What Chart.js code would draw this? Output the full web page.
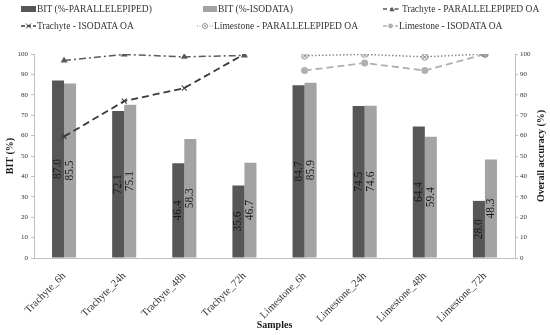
<!DOCTYPE html>
<html><head><meta charset="utf-8">
<script src="https://cdn.jsdelivr.net/npm/chart.js@4/dist/chart.umd.min.js"></script>
<style>
html,body{margin:0;padding:0;background:#fff;}
#wrap{position:relative;width:550px;height:335px;overflow:hidden;}
#c{position:absolute;left:0;top:0;}
.lg{position:absolute;font-family:"Liberation Serif",serif;font-size:9.5px;color:#333;white-space:nowrap;height:12px;line-height:12px;display:flex;align-items:center;}
.lg svg{display:block;margin-right:1px;}
</style></head><body>
<div id="wrap"><canvas id="c" width="550" height="335"></canvas><div id="legend"></div></div>
<script>
// ---- data ----
const categories = ["Trachyte_6h","Trachyte_24h","Trachyte_48h","Trachyte_72h","Limestone_6h","Limestone_24h","Limestone_48h","Limestone_72h"];
const bitParallelepiped = [87.0, 72.1, 46.4, 35.6, 84.7, 74.5, 64.4, 28.0];
const bitIsodata = [85.5, 75.1, 58.3, 46.7, 85.9, 74.6, 59.4, 48.3];
const trachyteParallelepipedOA = [96.8, 99.8, 98.6, 99.3, null, null, null, null];
const trachyteIsodataOA = [59.5, 76.9, 83.3, 100.0, null, null, null, null];
const limestoneParallelepipedOA = [null, null, null, null, 99.2, 99.8, 98.6, 100.0];
const limestoneIsodataOA = [null, null, null, null, 91.9, 95.6, 91.9, 99.9];
const yTicks = [0,10,20,30,40,50,60,70,80,90,100];
const seriesLabels = ["BIT (%-PARALLELEPIPED)","BIT (%-ISODATA)","Trachyte - PARALLELEPIPED OA","Trachyte - ISODATA OA","Limestone - PARALLELEPIPED OA","Limestone - ISODATA OA"];
const xTitle = "Samples", yTitle = "BIT (%)", y1Title = "Overall accuracy (%)";

const FONT = '"Liberation Serif", "Times New Roman", serif';
const C_DARK = '#575757', C_LIGHT = '#a3a3a3';

// circle with x marker
function circleX(){
  const cv = document.createElement('canvas'); cv.width = 8; cv.height = 8;
  const g = cv.getContext('2d');
  g.strokeStyle = '#8a8a8a'; g.lineWidth = 0.9;
  g.beginPath(); g.arc(4,4,3.2,0,Math.PI*2); g.stroke();
  g.beginPath(); g.moveTo(1.8,1.8); g.lineTo(6.2,6.2); g.moveTo(6.2,1.8); g.lineTo(1.8,6.2); g.stroke();
  return cv;
}

const dataLabelPlugin = {
  id: 'barLabels',
  afterDatasetsDraw(chart){
    const ctx = chart.ctx;
    [0,1].forEach(di => {
      const meta = chart.getDatasetMeta(di);
      meta.data.forEach((el, i) => {
        const v = chart.data.datasets[di].data[i];
        ctx.save();
        ctx.translate(el.x, (el.y + el.base)/2);
        ctx.rotate(-Math.PI/2);
        ctx.font = '11.5px ' + FONT;
        ctx.fillStyle = '#1a1a1a';
        ctx.textAlign = 'center'; ctx.textBaseline = 'middle';
        ctx.fillText(v.toFixed(1), 0, 0);
        ctx.restore();
      });
    });
    // right axis title (reads bottom-to-top)
    const ca = chart.chartArea;
    ctx.save();
    ctx.translate(541, (ca.top + ca.bottom)/2);
    ctx.rotate(-Math.PI/2);
    ctx.font = 'bold 10px ' + FONT;
    ctx.fillStyle = '#1a1a1a';
    ctx.textAlign = 'center'; ctx.textBaseline = 'middle';
    ctx.fillText(y1Title, 0, 0);
    ctx.restore();
  }
};

const chart = new Chart(document.getElementById('c'), {
  type: 'bar',
  data: {
    labels: categories,
    datasets: [
      {label: seriesLabels[0], data: bitParallelepiped, backgroundColor: C_DARK, yAxisID: 'y', categoryPercentage: 0.4, barPercentage: 1.0, order: 2},
      {label: seriesLabels[1], data: bitIsodata, backgroundColor: C_LIGHT, yAxisID: 'y', categoryPercentage: 0.4, barPercentage: 1.0, order: 2},
      {type: 'line', label: seriesLabels[2], data: trachyteParallelepipedOA, yAxisID: 'y1', borderColor: '#5a5a5a', borderWidth: 1.5, borderDash: [7,3,2,3], pointStyle: 'triangle', pointRadius: 2.5, pointBackgroundColor: '#5a5a5a', pointBorderColor: '#5a5a5a', spanGaps: false, order: 1},
      {type: 'line', label: seriesLabels[3], data: trachyteIsodataOA, yAxisID: 'y1', borderColor: '#3a3a3a', borderWidth: 1.8, borderDash: [7,4], pointStyle: 'crossRot', pointRadius: 3.5, pointBorderColor: '#3a3a3a', pointBorderWidth: 1.1, order: 1},
      {type: 'line', label: seriesLabels[4], data: limestoneParallelepipedOA, yAxisID: 'y1', borderColor: '#8a8a8a', borderWidth: 1.5, borderDash: [1.5,2], pointStyle: circleX(), order: 1},
      {type: 'line', label: seriesLabels[5], data: limestoneIsodataOA, yAxisID: 'y1', borderColor: '#b0b0b0', borderWidth: 1.8, borderDash: [7,4], pointStyle: 'circle', pointRadius: 2.6, pointBackgroundColor: '#b0b0b0', pointBorderColor: '#b0b0b0', order: 1}
    ]
  },
  options: {
    responsive: false,
    animation: false,
    layout: {padding: {top: 54, left: 0, right: 0, bottom: 0}},
    plugins: {legend: {display: false}, tooltip: {enabled: false}},
    scales: {
      x: {
        grid: {display: false},
        border: {display: true, color: '#c0c0c0', width: 1},
        ticks: {maxRotation: 45, minRotation: 45, padding: 4, color: '#333', font: {family: FONT, size: 10.5}},
        title: {display: true, text: xTitle, color: '#1a1a1a', font: {family: FONT, size: 10, weight: 'bold'}, padding: {top: 0, bottom: 4}},
        afterFit(s){ s.height = 77; }
      },
      y: {
        position: 'left', min: 0, max: 100,
        afterBuildTicks(s){ s.ticks = yTicks.map(v => ({value: v})); },
        grid: {drawOnChartArea: false, drawTicks: true, tickLength: 3, color: '#c0c0c0'},
        border: {display: true, color: '#c0c0c0'},
        ticks: {padding: 3, color: '#333', font: {family: FONT, size: 7}},
        title: {display: true, text: yTitle, color: '#1a1a1a', font: {family: FONT, size: 10, weight: 'bold'}, padding: {top: 4, bottom: 0}},
        afterFit(s){ s.width = 34; }
      },
      y1: {
        position: 'right', min: 0, max: 100,
        afterBuildTicks(s){ s.ticks = yTicks.map(v => ({value: v})); },
        grid: {drawOnChartArea: false, drawTicks: true, tickLength: 3, color: '#c0c0c0'},
        border: {display: true, color: '#c0c0c0'},
        ticks: {padding: 2, color: '#333', font: {family: FONT, size: 7}},
        title: {display: false},
        afterFit(s){ s.width = 35; }
      }
    }
  },
  plugins: [dataLabelPlugin]
});

// ---- legend (HTML) ----
const lg = document.getElementById('legend');
function svgBar(color, w){ return `<svg width="${w}" height="8"><rect x="0" y="1" width="${w}" height="6" fill="${color}"/></svg>`; }
function svgLine(color, w, dash, marker, sw){
  const c = w/2;
  let m = '';
  if (marker === 'tri') m = `<polygon points="${c-2.6},6.2 ${c+2.6},6.2 ${c},1.8" fill="${color}"/>`;
  if (marker === 'x') m = `<path d="M${c-2.5},1.5 L${c+2.5},6.5 M${c+2.5},1.5 L${c-2.5},6.5" stroke="${color}" stroke-width="1"/>`;
  if (marker === 'cx') m = `<circle cx="${c}" cy="4" r="2.6" fill="#fff" stroke="${color}" stroke-width="0.8"/><path d="M${c-1.6},2.4 L${c+1.6},5.6 M${c+1.6},2.4 L${c-1.6},5.6" stroke="${color}" stroke-width="0.7"/>`;
  if (marker === 'c') m = `<circle cx="${c}" cy="4" r="2.4" fill="${color}"/>`;
  return `<svg width="${w}" height="8"><line x1="0" y1="4" x2="${w}" y2="4" stroke="${color}" stroke-width="${sw}" stroke-dasharray="${dash}"/>${m}</svg>`;
}
const legendItems = [
  {left: 21, cy: 9, sym: svgBar(C_DARK, 15)},
  {left: 203, cy: 9, sym: svgBar(C_LIGHT, 14)},
  {left: 383, cy: 9, sym: svgLine('#5a5a5a', 18, '4,3,1.5,3', 'tri', 1.4)},
  {left: 21, cy: 26, sym: svgLine('#3a3a3a', 15, '4,2', 'x', 1.6)},
  {left: 197, cy: 26, sym: svgLine('#8a8a8a', 16, '1,1.5', 'cx', 1.2)},
  {left: 383, cy: 26, sym: svgLine('#b0b0b0', 15, '4,2', 'c', 1.6)}
];
legendItems.forEach((it, i) => {
  const d = document.createElement('div');
  d.className = 'lg';
  d.style.left = it.left + 'px';
  d.style.top = (it.cy - 6) + 'px';
  d.innerHTML = it.sym + '<span>' + chart.data.datasets[i].label + '</span>';
  lg.appendChild(d);
});
</script>
</body></html>
